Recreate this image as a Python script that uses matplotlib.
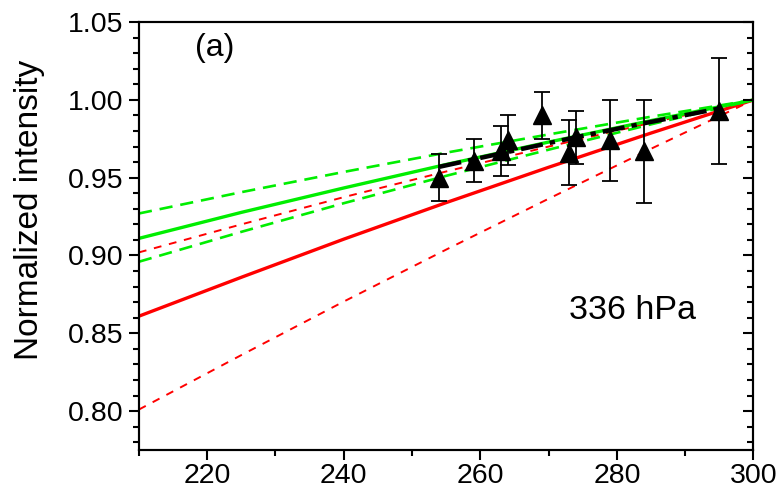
import matplotlib
matplotlib.use("Agg")
import matplotlib.pyplot as plt
from matplotlib.ticker import MultipleLocator

plt.rcParams['font.family'] = ['Liberation Sans', 'DejaVu Sans']

# Model curves
curve_x = [210, 225, 240, 255, 270, 285, 300]
red_solid = [0.861, 0.886, 0.9105, 0.934, 0.9567, 0.9787, 1.0]
red_dash_upper = [0.902, 0.920, 0.9375, 0.954, 0.970, 0.9853, 1.0]
red_dash_lower = [0.801, 0.836, 0.8704, 0.9038, 0.9365, 0.9686, 1.0]
green_solid = [0.911, 0.9277, 0.9434, 0.9585, 0.9729, 0.9867, 1.0]
green_dash_upper = [0.927, 0.9407, 0.9537, 0.9661, 0.9778, 0.9892, 1.0]
green_dash_lower = [0.896, 0.9152, 0.9336, 0.9512, 0.968, 0.9843, 1.0]

# Fit line
fit_x = [254, 264, 274, 284, 295]
fit_y = [0.957, 0.9665, 0.976, 0.985, 0.9945]

# Measurements
temp = [254, 259, 263, 264, 269, 273, 274, 279, 284, 295]
intensity = [0.950, 0.961, 0.967, 0.974, 0.990, 0.966, 0.976, 0.974, 0.967, 0.993]
err = [0.015, 0.014, 0.016, 0.016, 0.015, 0.021, 0.017, 0.026, 0.033, 0.034]

fig = plt.figure(figsize=(7.76, 4.91), dpi=100)
ax = fig.add_axes([0.179, 0.0835, 0.792, 0.8715])

ax.plot(curve_x, red_dash_lower, color='#ff0000', lw=1.4, dashes=(4, 4))
ax.plot(curve_x, red_dash_upper, color='#ff0000', lw=1.4, dashes=(4, 4))
ax.plot(curve_x, red_solid, color='#ff0000', lw=2.4)
ax.plot(curve_x, green_dash_upper, color='#00ee00', lw=1.9, dashes=(5, 3))
ax.plot(curve_x, green_dash_lower, color='#00ee00', lw=1.9, dashes=(5, 3))
ax.plot(curve_x, green_solid, color='#00ee00', lw=2.4)
ax.plot(fit_x, fit_y, color='black', lw=3.2, dashes=(5, 1.6, 1.2, 1.6))

ax.errorbar(temp, intensity, yerr=err, fmt='none', ecolor='black',
            elinewidth=1.3, capsize=5.5, capthick=1.3)
ax.plot(temp, intensity, linestyle='none', marker='^', color='black',
        markersize=13)

ax.set_xlim(210, 300)
ax.set_ylim(0.775, 1.05)
ax.xaxis.set_major_locator(MultipleLocator(20))
ax.xaxis.set_minor_locator(MultipleLocator(10))
ax.yaxis.set_major_locator(MultipleLocator(0.05))
ax.yaxis.set_minor_locator(MultipleLocator(0.01))
ax.yaxis.set_major_formatter(matplotlib.ticker.FormatStrFormatter('%.2f'))

for s in ax.spines.values():
    s.set_linewidth(1.5)

ax.tick_params(axis='x', which='both', direction='out', top=False,
               labelsize=20.5, pad=2, width=1.5)
ax.tick_params(axis='x', which='major', length=7)
ax.tick_params(axis='x', which='minor', length=4)
ax.tick_params(axis='y', which='both', direction='out', right=False,
               labelsize=20.5, pad=4, width=1.5)
ax.tick_params(axis='y', which='major', length=7)
ax.tick_params(axis='y', which='minor', length=4)

# right-side inward ticks
axr = ax.twinx()
axr.set_ylim(ax.get_ylim())
axr.yaxis.set_major_locator(MultipleLocator(0.05))
axr.yaxis.set_minor_locator(MultipleLocator(0.01))
axr.tick_params(axis='y', which='both', direction='in', labelright=False, width=1.5)
axr.tick_params(axis='y', which='major', length=7)
axr.tick_params(axis='y', which='minor', length=4)
for s in axr.spines.values():
    s.set_linewidth(1.5)

ax.set_ylabel('Normalized intensity', fontsize=24)
ax.yaxis.set_label_coords(-0.153, 0.56)
ax.text(0.092, 0.975, '(a)', transform=ax.transAxes, fontsize=23,
        ha='left', va='top')
ax.text(0.70, 0.325, '336 hPa', transform=ax.transAxes, fontsize=24.5,
        ha='left', va='center')

fig.savefig('out.png', dpi=100)
